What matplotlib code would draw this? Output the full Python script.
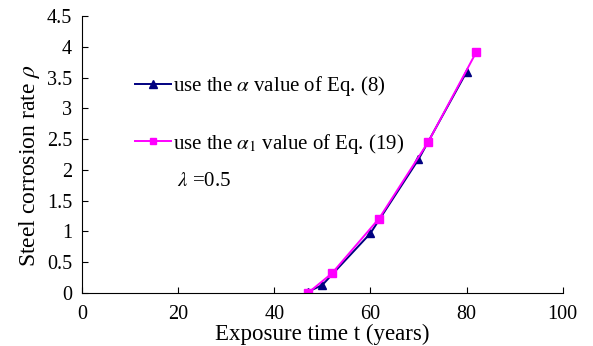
import matplotlib
matplotlib.use("Agg")
import matplotlib.pyplot as plt
from matplotlib.ticker import FuncFormatter

plt.rcParams['font.family'] = ['Liberation Serif', 'DejaVu Serif']
plt.rcParams['mathtext.fontset'] = 'stix'

t_alpha = [47, 50, 60, 70, 80]
rho_alpha = [0.02, 0.13, 0.97, 2.17, 3.59]
t_alpha1 = [47, 52, 61.8, 72, 82]
rho_alpha1 = [0.0, 0.32, 1.21, 2.45, 3.91]

label_alpha = r"use the $\alpha$ value of Eq. (8)"
label_alpha1 = r"use the $\alpha_1$ value of Eq. (19)"

fig = plt.figure(figsize=(5.93, 3.46), dpi=100)
ax = fig.add_axes([0.138, 0.153, 0.811, 0.801])

ax.plot(t_alpha, rho_alpha, color='#000080', marker='^', markersize=6, lw=1.4,
        label=label_alpha)
ax.plot(t_alpha1, rho_alpha1, color='#FF00FF', marker='s', markersize=5.5, lw=1.4,
        label=label_alpha1)

ax.set_xlim(0, 100)
ax.set_ylim(0, 4.5)
ax.set_xticks(range(0, 101, 20))
ax.set_yticks([i * 0.5 for i in range(10)])
ax.yaxis.set_major_formatter(FuncFormatter(lambda v, p: f"{v:g}"))
ax.tick_params(direction='in', labelsize=14.5, length=4.5, width=0.8)
ax.tick_params(axis='x', pad=8.5)
ax.tick_params(axis='y', pad=7)
for s in ['top', 'right']:
    ax.spines[s].set_visible(False)
for s in ['left', 'bottom']:
    ax.spines[s].set_linewidth(0.8)

ax.set_xlabel("Exposure time t (years)", fontsize=16.5, labelpad=0)
ax.set_ylabel(r"Steel corrosion rate $\rho$", fontsize=17)
ax.yaxis.set_label_coords(-0.083, 0.458)

leg = ax.legend(loc='upper left', bbox_to_anchor=(0.228, 0.785),
                bbox_transform=fig.transFigure, frameon=False,
                fontsize=15, labelspacing=1.6, handlelength=1.7, handletextpad=0.1,
                borderpad=0, borderaxespad=0, markerscale=0.85)

fig.text(0.298, 0.474, r"$\lambda$ =0.5", fontsize=15, va='center', ha='left')

fig.savefig("out.png", dpi=100)
